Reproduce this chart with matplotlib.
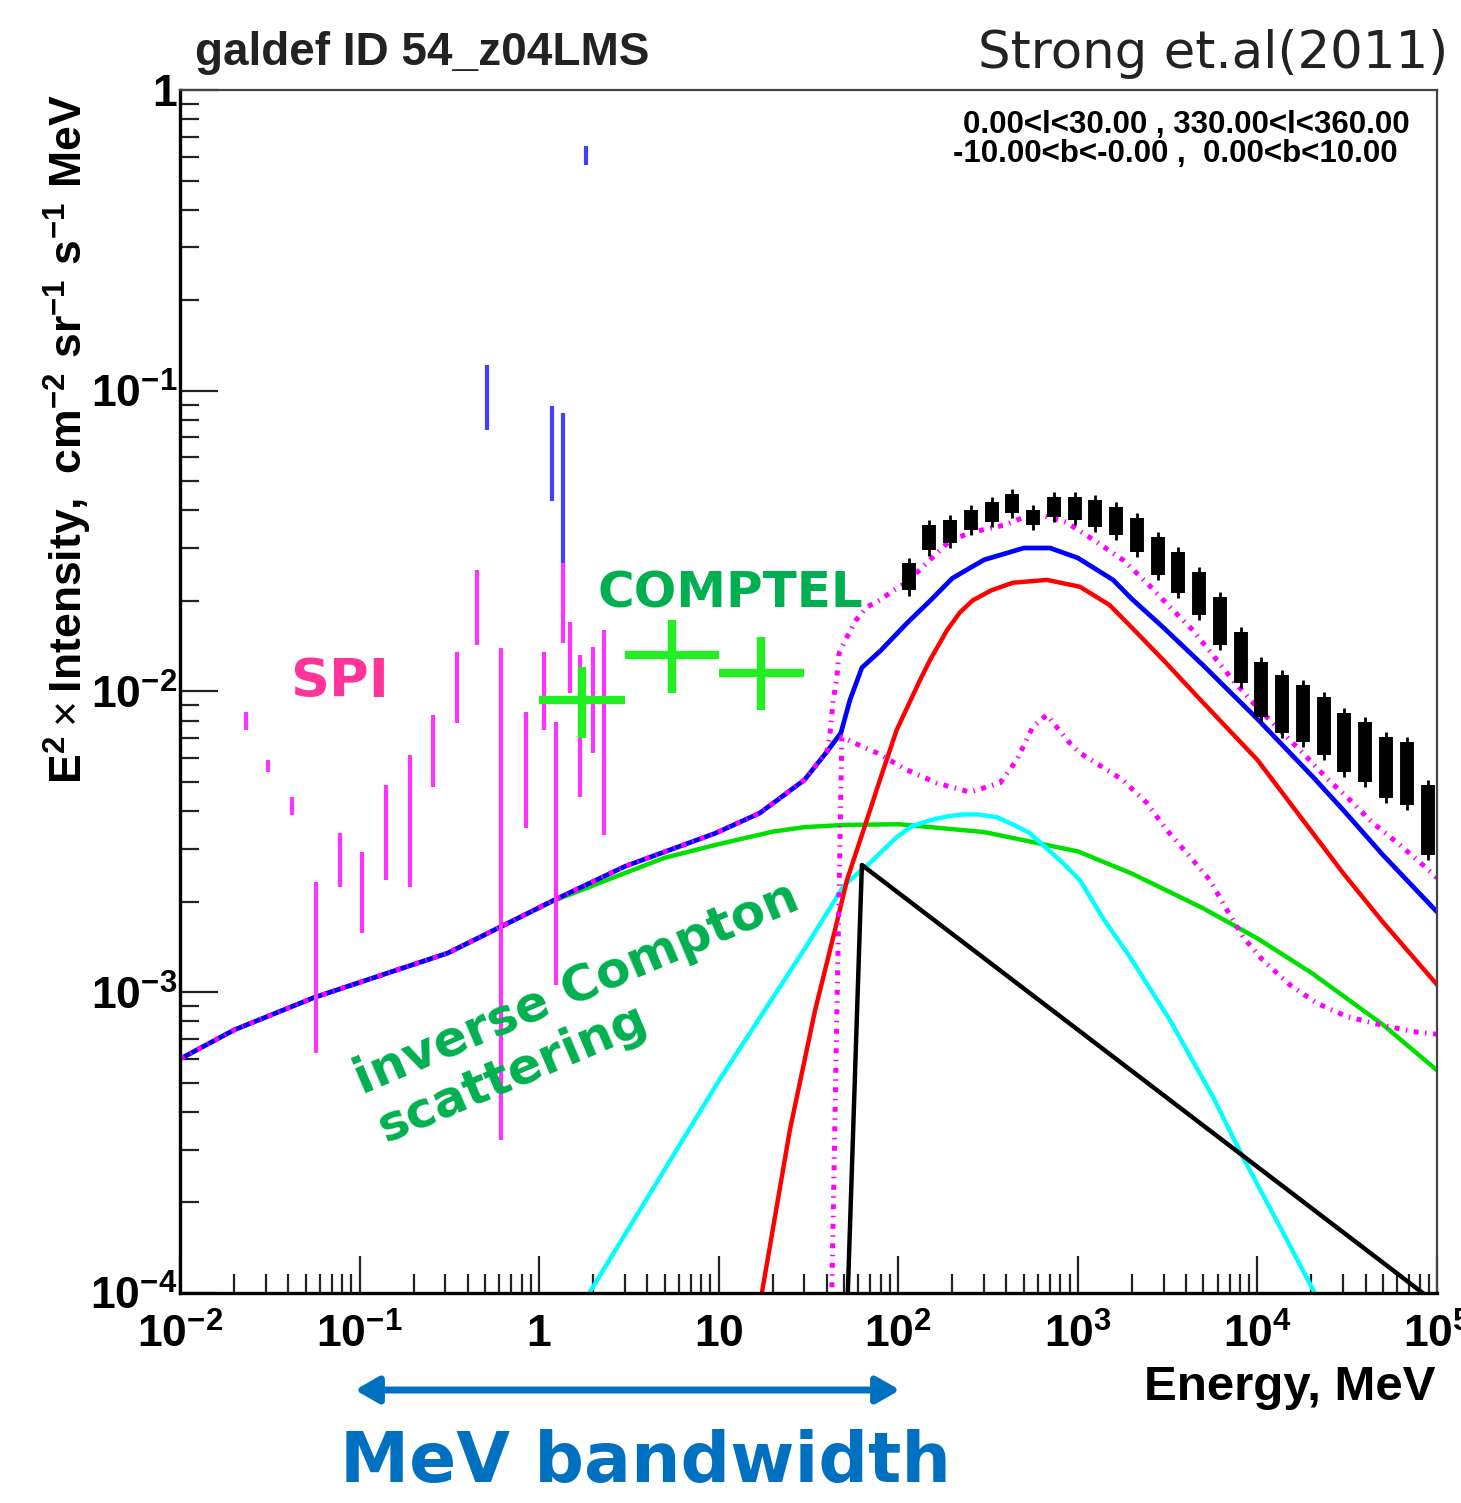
import matplotlib
matplotlib.use("Agg")
import matplotlib.pyplot as plt

W, H = 1461, 1503

# model curves: energy (MeV) and E^2 x intensity
e_total = [0.01, 0.02, 0.0557, 0.31, 0.61, 1.22, 3.0, 9.6, 16.9, 30, 40, 47.9, 53.8, 62.7,
           80, 112, 150, 200, 300, 500, 700, 1000, 1570, 2000, 3000, 5000, 1e4, 2e4, 3e4,
           5e4, 1e5]
i_total = [6.0e-4, 7.49e-4, 9.6e-4, 1.35e-3, 1.65e-3, 2.03e-3, 2.62e-3, 3.38e-3, 3.94e-3,
           5.08e-3, 6.3e-3, 7.28e-3, 9.37e-3, 1.2e-2, 1.37e-2, 1.69e-2, 2.0e-2, 2.38e-2,
           2.74e-2, 3.0e-2, 3.0e-2, 2.78e-2, 2.35e-2, 2.03e-2, 1.63e-2, 1.22e-2, 8.1e-3,
           5.26e-3, 4.04e-3, 2.86e-3, 1.85e-3]

e_ic = [0.01, 0.02, 0.0557, 0.31, 0.61, 1.22, 3.0, 5.0, 9.6, 20, 30, 50, 100, 300, 1000,
        2000, 5000, 1e4, 2e4, 5e4, 1e5]
i_ic = [6.0e-4, 7.49e-4, 9.6e-4, 1.35e-3, 1.65e-3, 2.02e-3, 2.49e-3, 2.8e-3, 3.09e-3,
        3.42e-3, 3.54e-3, 3.6e-3, 3.62e-3, 3.41e-3, 2.94e-3, 2.48e-3, 1.90e-3, 1.51e-3,
        1.16e-3, 7.8e-4, 5.5e-4]

e_pi0 = [16.6, 24.9, 34.4, 44.4, 51.8, 66.8, 79, 98, 132, 150, 187, 220, 260, 330, 435,
         672, 1026, 1500, 2000, 3000, 5000, 1e4, 3e4, 5e4, 1e5]
i_pi0 = [8.5e-5, 3.48e-4, 8.7e-4, 1.61e-3, 2.36e-3, 3.74e-3, 5.08e-3, 7.45e-3, 1.09e-2,
         1.27e-2, 1.6e-2, 1.83e-2, 2.01e-2, 2.17e-2, 2.30e-2, 2.35e-2, 2.23e-2, 1.94e-2,
         1.63e-2, 1.27e-2, 9.16e-3, 5.92e-3, 2.49e-3, 1.71e-3, 1.06e-3]

e_brems = [1.65, 10, 30, 50, 69.5, 98, 120, 150, 190, 229, 280, 354, 440, 541, 824, 1026,
           1400, 1950, 3250, 5650, 8300, 14600, 22000]
i_brems = [8.7e-5, 5.07e-4, 1.39e-3, 2.27e-3, 2.69e-3, 3.28e-3, 3.57e-3, 3.73e-3, 3.85e-3,
           3.9e-3, 3.9e-3, 3.82e-3, 3.6e-3, 3.38e-3, 2.69e-3, 2.36e-3, 1.74e-3, 1.31e-3,
           8.1e-4, 4.49e-4, 2.83e-4, 1.5e-4, 9.4e-5]

e_src = [52.2, 62.7, 1e5]
i_src = [9.5e-5, 2.65e-3, 9.2e-5]

e_tot2 = [0.01, 0.02, 0.0557, 0.31, 0.61, 1.22, 3.0, 9.6, 16.9, 30, 40, 41.6, 43.3, 45.5,
          46.8, 51.8, 58.3, 66.8, 79, 94, 112, 150, 196, 260, 393, 569, 857, 1227, 1778,
          2420, 3250, 4365, 5650, 7300, 9930, 13300, 17900, 24300, 32700, 43800, 62100,
          83400, 1e5]
i_tot2 = [6.0e-4, 7.49e-4, 9.6e-4, 1.35e-3, 1.65e-3, 2.03e-3, 2.62e-3, 3.38e-3, 3.94e-3,
          5.08e-3, 6.3e-3, 7.16e-3, 9.2e-3, 1.12e-2, 1.34e-2, 1.52e-2, 1.73e-2, 1.91e-2,
          2.01e-2, 2.17e-2, 2.31e-2, 2.74e-2, 3.19e-2, 3.39e-2, 3.58e-2, 3.92e-2, 3.66e-2,
          3.19e-2, 2.74e-2, 2.30e-2, 1.91e-2, 1.60e-2, 1.32e-2, 1.09e-2, 8.88e-3, 7.45e-3,
          6.25e-3, 5.15e-3, 4.36e-3, 3.66e-3, 3.09e-3, 2.65e-3, 2.40e-3]

e_low = [42.5, 48.5, 63.5, 76, 112, 164, 250, 368, 457, 561, 671, 902, 1026, 1778, 2420,
         3130, 4050, 5430, 6760, 8300, 10700, 15100, 21400, 31500, 48000, 73300, 1e5]
i_low = [9e-5, 7.06e-3, 6.54e-3, 6.25e-3, 5.48e-3, 4.96e-3, 4.63e-3, 4.96e-3, 5.92e-3,
         7.62e-3, 8.36e-3, 6.74e-3, 6.25e-3, 5.08e-3, 4.26e-3, 3.46e-3, 2.9e-3, 2.36e-3,
         1.88e-3, 1.53e-3, 1.28e-3, 1.06e-3, 9.2e-4, 8.3e-4, 7.8e-4, 7.4e-4, 7.25e-4]

# Fermi-LAT points (error ranges)
lat_e = [114, 149, 194, 253, 331, 432, 563, 735, 959, 1252, 1634, 2132, 2782, 3631, 4738,
         6183, 8069, 10530, 13740, 17930, 23400, 30540, 39850, 52000, 67870, 88570]
lat_hi = [0.0267, 0.0358, 0.0372, 0.0401, 0.0427, 0.0454, 0.0401, 0.0443, 0.0443, 0.0433,
          0.0410, 0.0377, 0.0326, 0.0291, 0.0250, 0.0206, 0.0158, 0.0125, 0.01135, 0.01051,
          0.00959, 0.00848, 0.00792, 0.00706, 0.00680, 0.00489]
lat_lo = [0.0217, 0.0295, 0.0312, 0.0344, 0.0366, 0.0392, 0.0358, 0.0380, 0.0372, 0.0352,
          0.0331, 0.0291, 0.0244, 0.0213, 0.0180, 0.0143, 0.01067, 0.00822, 0.00728, 0.00680,
          0.00615, 0.00540, 0.00500, 0.00443, 0.00420, 0.00286]

# SPI points
spi_e = [0.0233, 0.0309, 0.0421, 0.0571, 0.0778, 0.103, 0.140, 0.191, 0.257, 0.348, 0.451,
         0.612, 0.845, 1.06, 1.24, 1.35, 1.48, 1.69, 1.99, 2.30]
spi_hi = [8.55e-3, 5.92e-3, 4.46e-3, 2.33e-3, 3.38e-3, 2.92e-3, 4.89e-3, 6.15e-3, 8.35e-3,
          1.353e-2, 2.54e-2, 1.395e-2, 8.55e-3, 1.353e-2, 7.92e-3, 2.67e-2, 1.70e-2,
          1.32e-2, 1.41e-2, 1.60e-2]
spi_lo = [7.45e-3, 5.40e-3, 3.88e-3, 6.28e-4, 2.24e-3, 1.57e-3, 2.36e-3, 2.24e-3, 4.81e-3,
          7.85e-3, 1.428e-2, 3.23e-4, 3.52e-3, 7.45e-3, 1.06e-3, 1.45e-2, 9.89e-3, 4.46e-3,
          6.24e-3, 3.33e-3]
line_e = [0.512, 1.18, 1.35, 1.82]
line_hi = [0.122, 0.089, 0.0844, 0.651]
line_lo = [0.074, 0.043, 0.0267, 0.563]

# COMPTEL
comptel_e = [1.73, 5.48, 17.3]
comptel_elo = [1.0, 3.0, 10.0]
comptel_ehi = [3.0, 10.0, 30.0]
comptel_i = [9.37e-3, 1.32e-2, 1.15e-2]
comptel_ilo = [7.0e-3, 9.89e-3, 8.68e-3]
comptel_ihi = [1.205e-2, 1.73e-2, 1.52e-2]

xticks = [1e-2, 1e-1, 1, 10, 1e2, 1e3, 1e4, 1e5]
xticklabels = ["10^{-2}", "10^{-1}", "1", "10", "10^{2}", "10^{3}", "10^{4}", "10^{5}"]
yticks = [1e-4, 1e-3, 1e-2, 1e-1, 1]
yticklabels = ["10^{-4}", "10^{-3}", "10^{-2}", "10^{-1}", "1"]

plt.rcParams["mathtext.fontset"] = "custom"
plt.rcParams["mathtext.rm"] = "Liberation Sans"
plt.rcParams["mathtext.bf"] = "Liberation Sans:bold"
plt.rcParams["font.family"] = ["Liberation Sans", "DejaVu Sans"]

fig = plt.figure(figsize=(W / 100, H / 100), dpi=100)
ax = fig.add_axes([180 / W, 1 - 1293 / H, (1437 - 180) / W, (1293 - 90) / H])
ax.set_xscale("log")
ax.set_yscale("log")
ax.set_xlim(1e-2, 1e5)
ax.set_ylim(1e-4, 1)

dotted = (0, (1.0, 1.3, 0.3, 1.3))
ax.plot(e_ic, i_ic, color="#00e000", lw=3.2)
ax.plot(e_brems, i_brems, color="#00ffff", lw=3.2)
ax.plot(e_pi0, i_pi0, color="#ff0000", lw=3.2)
ax.plot(e_src, i_src, color="black", lw=3.2)
ax.plot(e_total, i_total, color="#0000ff", lw=3.4)
ax.plot(e_tot2, i_tot2, color="#ff00ff", lw=3.6, ls=dotted)
ax.plot(e_low, i_low, color="#ff00ff", lw=3.6, ls=dotted)

ax.vlines(spi_e, spi_lo, spi_hi, colors="#ff33ff", lw=3.0)
ax.vlines(line_e, line_lo, line_hi, colors="#4040ff", lw=3.0)

ax.hlines(comptel_i, comptel_elo, comptel_ehi, colors="#22ee22", lw=6)
ax.vlines(comptel_e, comptel_ilo, comptel_ihi, colors="#22ee22", lw=6)

ax.vlines(lat_e, [v * 0.96 for v in lat_lo], [v * 1.04 for v in lat_hi], colors="black", lw=2)
ax.vlines(lat_e, lat_lo, lat_hi, colors="black", lw=10)

ax.set_xticks(xticks)
ax.set_xticklabels(["$\\mathbf{%s}$" % t for t in xticklabels])
ax.set_yticks(yticks)
ax.set_yticklabels(["$\\mathbf{%s}$" % t for t in yticklabels])
ax.tick_params(which="both", direction="in", top=False, right=False, width=1.6, color="#222222")
ax.tick_params(which="major", length=27, labelsize=32)
ax.tick_params(which="minor", length=14)
ax.tick_params(axis="x", which="major", pad=15)
ax.tick_params(axis="y", which="major", pad=2)
for s in ["left", "bottom"]:
    ax.spines[s].set_linewidth(2.4)
for s in ["top", "right"]:
    ax.spines[s].set_linewidth(1.6)
    ax.spines[s].set_color("#444444")


def ft(x, y, s, **kw):
    fig.text(x / W, 1 - y / H, s, **kw)


ft(195, 65, "galdef ID 54_z04LMS", fontsize=33, fontweight="bold", color="#222222")
ft(978, 68, "Strong et.al(2011)", fontsize=37, family="DejaVu Sans", color="#222222")
ft(1410, 133, "0.00<l<30.00 , 330.00<l<360.00", fontsize=22.5, fontweight="bold", ha="right")
ft(1398, 162, "-10.00<b<-0.00 ,  0.00<b<10.00", fontsize=22.5, fontweight="bold", ha="right")
ft(68, 95, "$\\mathbf{E^{2}}\\times$$\\mathbf{Intensity,\\ cm^{-2}\\ sr^{-1}\\ s^{-1}\\ MeV}$",
   fontsize=32, rotation=90, ha="center", va="top")
ft(1435, 1400, "Energy, MeV", fontsize=35.5, fontweight="bold", ha="right")

jp = dict(fontweight="bold", family="DejaVu Sans")
ft(290, 697, "SPI", fontsize=39, color="#ff3399", **jp)
ft(597, 607, "COMPTEL", fontsize=36, color="#00b050", **jp)
ft(362, 1095, "inverse Compton", fontsize=36, color="#00b050", rotation=23,
   rotation_mode="anchor", **jp)
ft(385, 1143, "scattering", fontsize=36, color="#00b050", rotation=23,
   rotation_mode="anchor", **jp)
ft(340, 1482, "MeV bandwidth", fontsize=50, color="#0070c0", **jp)

fig.add_artist(matplotlib.patches.FancyArrowPatch(
    (355 / W, 1 - 1390 / H), (900 / W, 1 - 1390 / H), transform=fig.transFigure,
    arrowstyle="<|-|>,head_length=14,head_width=8", lw=5, color="#0070c0",
    shrinkA=0, shrinkB=0))

fig.savefig("out.png", dpi=100, facecolor="white")
